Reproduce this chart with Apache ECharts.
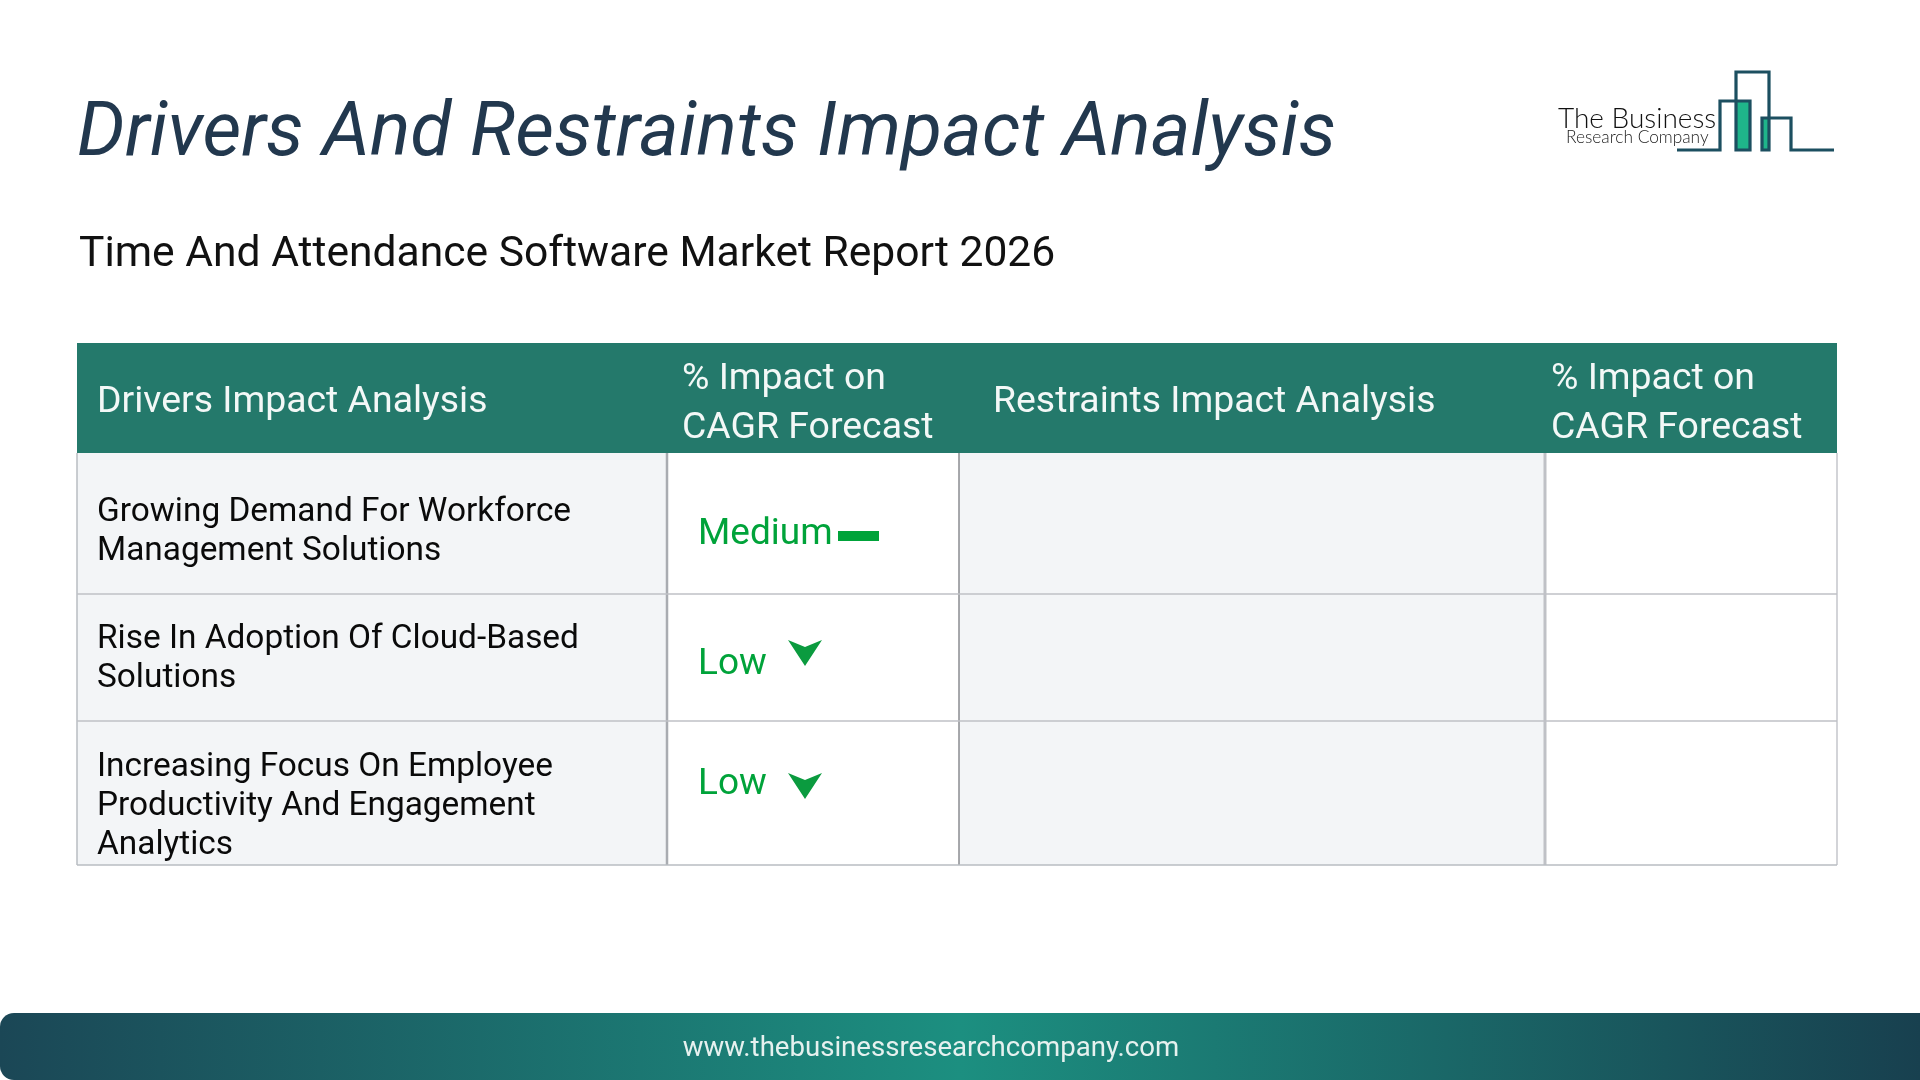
<!DOCTYPE html>
<html>
<head>
<meta charset="utf-8">
<title>Drivers And Restraints Impact Analysis</title>
<script src="https://cdn.jsdelivr.net/npm/echarts@6/dist/echarts.min.js"></script>
<style>
  html, body { margin: 0; padding: 0; background: #fff; }
  #chart { width: 1920px; height: 1080px; }
</style>
</head>
<body>
<div id="chart"></div>
<script>
var titleText = 'Drivers And Restraints Impact Analysis';
var subtitleText = 'Time And Attendance Software Market Report 2026';
var footerText = 'www.thebusinessresearchcompany.com';
var headers = ['Drivers Impact Analysis', '% Impact on\nCAGR Forecast', 'Restraints Impact Analysis', '% Impact on\nCAGR Forecast'];
var drivers = [
  'Growing Demand For Workforce\nManagement Solutions',
  'Rise In Adoption Of Cloud-Based\nSolutions',
  'Increasing Focus On Employee\nProductivity And Engagement\nAnalytics'
];
var impacts = ['Medium', 'Low', 'Low'];
var restraints = ['', '', ''];
var restraintImpacts = ['', '', ''];

// table layout, axis units are page pixels
var colEdges = [77, 667, 959, 1545, 1837];
var rowEdges = [343, 453, 594, 721, 865];
var driverTextY = [532, 659, 807];
var impactTextY = [535, 665, 785];
var arrowTopY = [0, 640, 773];

var HEAD = '#24796B', SHADE = '#F3F5F7', GREEN = '#00A33A', ARROW = '#0B9B3F', INK = '#0A0A0A';
var FONT = 'Roboto';

function cellRect(api, col, row) {
  var a = api.coord([colEdges[col], rowEdges[row]]);
  var b = api.coord([colEdges[col + 1], rowEdges[row + 1]]);
  return { x: a[0], y: a[1], width: b[0] - a[0], height: b[1] - a[1] };
}

// fills and header labels
function renderCell(params, api) {
  var col = api.value(0), row = api.value(1);
  var r = cellRect(api, col, row);
  var fill = row === 0 ? HEAD : (col % 2 === 0 ? SHADE : '#fff');
  var children = [{ type: 'rect', shape: r, style: { fill: fill } }];
  if (row === 0) {
    children.push({
      type: 'text',
      style: {
        text: headers[col], x: r.x + (col === 1 ? 15 : col === 3 ? 6 : col === 2 ? 34 : 20), y: r.y + r.height / 2 + (col % 2 === 1 ? 6 : 5),
        fill: '#F3F8F7', font: '37.4px ' + FONT, lineHeight: 49, verticalAlign: 'middle', align: 'left'
      }
    });
  }
  return { type: 'group', children: children };
}

var cellData = [];
for (var r = 0; r < rowEdges.length - 1; r++) {
  for (var c = 0; c < colEdges.length - 1; c++) cellData.push([c, r]);
}

// grid rules: x1, y1, x2, y2, width, colour
var ruleData = [
  [colEdges[0], rowEdges[1], colEdges[0], rowEdges[4], 1.5, '#B9BCC2'],
  [colEdges[1], rowEdges[1], colEdges[1], rowEdges[4], 2.5, '#A9ACB1'],
  [colEdges[2], rowEdges[1], colEdges[2], rowEdges[4], 1.2, '#6F7176'],
  [colEdges[3], rowEdges[1], colEdges[3], rowEdges[4], 3, '#BFC1C6'],
  [colEdges[4], rowEdges[1], colEdges[4], rowEdges[4], 1.5, '#C4C6CB'],
  [colEdges[0], rowEdges[2], colEdges[4], rowEdges[2], 1.5, '#BFC1C6'],
  [colEdges[0], rowEdges[3], colEdges[4], rowEdges[3], 1.5, '#BFC1C6'],
  [colEdges[0], rowEdges[4], colEdges[4], rowEdges[4], 1.5, '#B9BCC2']
];

function renderRule(params, api) {
  var a = api.coord([api.value(0), api.value(1)]);
  var b = api.coord([api.value(2), api.value(3)]);
  return {
    type: 'line',
    shape: { x1: a[0], y1: a[1], x2: b[0], y2: b[1] },
    style: { stroke: api.value(5), lineWidth: api.value(4) }
  };
}

// driver name and its impact rating
function renderRow(params, api) {
  var i = params.dataIndex;
  var nameAt = api.coord([colEdges[0] + 20, driverTextY[i]]);
  var impactAt = api.coord([colEdges[1] + 31, impactTextY[i]]);
  var children = [
    {
      type: 'text',
      style: {
        text: drivers[i], x: nameAt[0], y: nameAt[1], fill: INK,
        font: '33.4px ' + FONT, lineHeight: 39, verticalAlign: 'middle', align: 'left'
      }
    },
    {
      type: 'text',
      style: {
        text: impacts[i], x: impactAt[0], y: impactAt[1], fill: GREEN,
        font: '37px ' + FONT, verticalAlign: 'middle', align: 'left'
      }
    }
  ];
  if (impacts[i] === 'Medium') {
    var p = api.coord([838, impactTextY[i] - 4]);
    children.push({ type: 'rect', shape: { x: p[0], y: p[1], width: 41, height: 10 }, style: { fill: GREEN } });
  } else {
    var t = api.coord([788, arrowTopY[i]]);
    children.push({
      type: 'polygon',
      shape: { points: [[t[0], t[1]], [t[0] + 17, t[1] + 7], [t[0] + 34, t[1]], [t[0] + 17, t[1] + 26]] },
      style: { fill: ARROW }
    });
  }
  return { type: 'group', children: children };
}

function logoGraphic() {
  var line = [[1677, 150], [1720, 150], [1720, 101], [1750, 101], [1750, 150], [1736, 150], [1736, 72],
    [1769, 72], [1769, 150], [1762, 150], [1762, 118], [1791, 118], [1791, 150], [1834, 150]];
  return [
    { type: 'rect', shape: { x: 1737, y: 102, width: 12, height: 47 }, style: { fill: '#1FB58A' } },
    { type: 'rect', shape: { x: 1763, y: 119, width: 6, height: 30 }, style: { fill: '#1FB58A' } },
    { type: 'polyline', shape: { points: line }, style: { stroke: '#1C4F60', lineWidth: 3.2, fill: null } },
    { type: 'text', style: { text: 'The Business', x: 1558, y: 133, fill: '#111', font: '300 28px Lato', verticalAlign: 'bottom' } },
    { type: 'text', style: { text: 'Research Company', x: 1566, y: 146, fill: '#222', font: '300 17.3px Lato', verticalAlign: 'bottom' } }
  ];
}

var chart = echarts.init(document.getElementById('chart'));
chart.setOption({
  animation: false,
  backgroundColor: '#fff',
  title: [
    {
      text: titleText, left: 72, top: 94,
      textStyle: { fontFamily: FONT, fontStyle: 'italic', fontWeight: 400, fontSize: 75.4, color: '#22384E' }
    },
    {
      text: subtitleText, left: 74, top: 229,
      textStyle: { fontFamily: FONT, fontWeight: 400, fontSize: 42.6, color: '#111' }
    }
  ],
  grid: { left: colEdges[0], top: rowEdges[0], width: colEdges[4] - colEdges[0], height: rowEdges[4] - rowEdges[0] },
  xAxis: { type: 'value', min: colEdges[0], max: colEdges[4], show: false },
  yAxis: { type: 'value', min: rowEdges[0], max: rowEdges[4], inverse: true, show: false },
  series: [
    { type: 'custom', coordinateSystem: 'cartesian2d', clip: false, silent: true, encode: { x: 0, y: 1 }, data: cellData, renderItem: renderCell, z: 1 },
    { type: 'custom', coordinateSystem: 'cartesian2d', clip: false, silent: true, data: ruleData, renderItem: renderRule, z: 2 },
    { type: 'custom', coordinateSystem: 'cartesian2d', clip: false, silent: true, data: drivers.map(function (d, i) { return [i]; }), renderItem: renderRow, z: 3 }
  ],
  graphic: logoGraphic().concat([
    {
      type: 'rect',
      shape: { x: 0, y: 1013, width: 1920, height: 67, r: [14, 0, 0, 14] },
      style: {
        fill: new echarts.graphic.LinearGradient(0, 0, 1, 0, [
          { offset: 0, color: '#1B4756' },
          { offset: 0.5, color: '#1C8F80' },
          { offset: 1, color: '#18404F' }
        ])
      }
    },
    {
      type: 'text', z: 10,
      style: {
        text: footerText, x: 931, y: 1049, fill: '#E6F1EF', font: '27.6px ' + FONT,
        align: 'center', verticalAlign: 'middle'
      }
    }
  ])
});
</script>
</body>
</html>
